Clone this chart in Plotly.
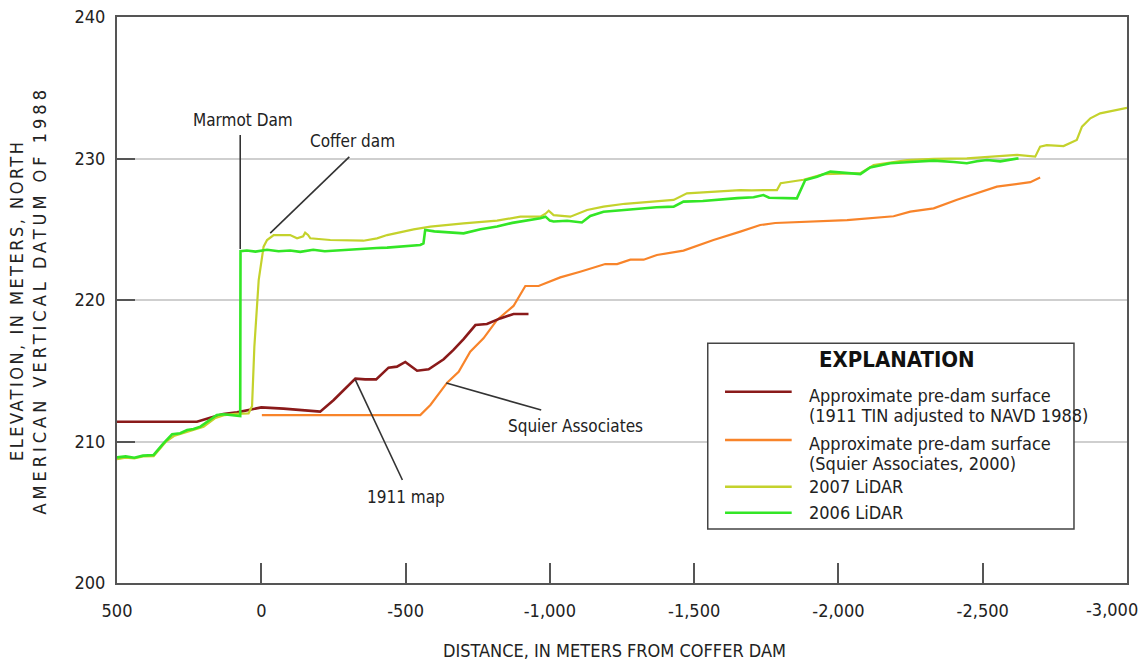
import plotly.graph_objects as go

# Longitudinal profile data: distance from coffer dam (m, negative = upstream), elevation (m, NAVD 1988)
tin1911_dist = [500, 223, 177, 132, 84, 15, 0, -77, -158, -204, -251, -285, -326, -360, -398,
                -441, -470, -499, -540, -580, -632, -666, -701, -742, -782, -828, -874, -926]
tin1911_elev = [211.40, 211.40, 211.68, 211.94, 212.06, 212.37, 212.41, 212.32, 212.18, 212.11,
                212.93, 213.64, 214.44, 214.39, 214.39, 215.22, 215.29, 215.62, 215.00, 215.10,
                215.81, 216.47, 217.24, 218.23, 218.30, 218.70, 219.01, 219.01]

squier_dist = [-2, -551, -586, -620, -644, -684, -724, -770, -817, -874, -915, -961, -1036, -1105,
               -1192, -1233, -1279, -1325, -1371, -1463, -1567, -1660, -1729, -1781, -2030, -2191,
               -2249, -2330, -2411, -2549, -2665, -2699]
squier_elev = [211.87, 211.87, 212.58, 213.52, 214.16, 214.93, 216.35, 217.29, 218.59, 219.58,
               220.99, 220.99, 221.60, 222.00, 222.54, 222.54, 222.85, 222.85, 223.18, 223.49,
               224.24, 224.83, 225.30, 225.44, 225.65, 225.92, 226.24, 226.48, 227.09, 228.01,
               228.33, 228.65]

lidar2007_dist = [500, 470, 440, 410, 373, 330, 303, 257, 200, 161, 127, 90, 44, 32, 24, 9, -8,
                  -20, -43, -100, -124, -145, -152, -162, -170, -239, -300, -354, -401, -436, -528,
                  -586, -701, -817, -898, -967, -985, -996, -1013, -1071, -1129, -1186, -1260,
                  -1359, -1429, -1475, -1530, -1640, -1660, -1700, -1787, -1800, -1879, -1949,
                  -2000, -2076, -2122, -2238, -2330, -2445, -2619, -2682, -2699, -2722, -2780,
                  -2826, -2844, -2873, -2907, -2953, -2994, -3000]
lidar2007_elev = [208.76, 208.85, 208.80, 208.95, 208.97, 210.00, 210.39, 210.69, 211.05, 211.64,
                  211.87, 211.95, 211.99, 212.50, 216.70, 221.40, 223.77, 224.24, 224.59, 224.59,
                  224.36, 224.50, 224.76, 224.60, 224.36, 224.24, 224.20, 224.19, 224.36, 224.59,
                  224.99, 225.19, 225.42, 225.61, 225.89, 225.89, 226.10, 226.31, 226.00, 225.89,
                  226.36, 226.60, 226.80, 226.95, 227.07, 227.54, 227.60, 227.70, 227.77, 227.75,
                  227.77, 228.25, 228.50, 228.90, 228.93, 228.96, 229.54, 229.89, 229.97, 230.01,
                  230.25, 230.13, 230.84, 230.95, 230.88, 231.31, 232.25, 232.84, 233.19, 233.38,
                  233.55, 233.58]

lidar2006_dist = [500, 470, 440, 410, 373, 339, 309, 281, 257, 235, 211, 177, 154, 131, 100, 84,
                  73, 72, 50, 20, -20, -60, -100, -135, -180, -220, -260, -308, -350, -400, -436,
                  -500, -551, -562, -568, -600, -650, -701, -760, -817, -870, -932, -967, -985,
                  -1000, -1013, -1060, -1111, -1140, -1186, -1250, -1302, -1370, -1429, -1463,
                  -1530, -1591, -1650, -1706, -1740, -1760, -1856, -1885, -1926, -1972, -2030,
                  -2076, -2110, -2180, -2250, -2330, -2400, -2445, -2480, -2515, -2561, -2595,
                  -2624]
lidar2006_elev = [208.88, 208.95, 208.85, 209.00, 209.05, 209.87, 210.51, 210.58, 210.81, 210.88,
                  211.05, 211.57, 211.87, 211.92, 211.85, 211.80, 211.80, 223.45, 223.50, 223.42,
                  223.55, 223.45, 223.50, 223.40, 223.55, 223.45, 223.50, 223.60, 223.62, 223.68,
                  223.70, 223.80, 223.89, 224.00, 224.95, 224.85, 224.78, 224.71, 225.00, 225.19,
                  225.45, 225.65, 225.77, 225.89, 225.61, 225.55, 225.60, 225.48, 225.94, 226.24,
                  226.35, 226.41, 226.55, 226.60, 226.95, 227.00, 227.11, 227.20, 227.26, 227.42,
                  227.23, 227.18, 228.48, 228.71, 229.07, 228.95, 228.90, 229.37, 229.66, 229.75,
                  229.85, 229.75, 229.66, 229.80, 229.89, 229.80, 229.90, 230.01]

x_tickvals = [500, 0, -500, -1000, -1500, -2000, -2500, -3000]
x_ticktext = ["500", "0", "-500", "-1,000", "-1,500", "-2,000", "-2,500", "-3,000"]
y_tickvals = [200, 210, 220, 230, 240]

C_1911 = "#8A1A1A"
C_SQUIER = "#F8842A"
C_2007 = "#C4D22C"
C_2006 = "#33E626"
AXIS = "#555555"
TEXT = "#222222"
FONT = "DejaVu Sans Condensed, Liberation Sans Narrow, Arial Narrow, sans-serif"

fig = go.Figure()
fig.add_trace(go.Scatter(x=squier_dist, y=squier_elev, mode="lines",
                         line=dict(color=C_SQUIER, width=2.2)))
fig.add_trace(go.Scatter(x=tin1911_dist, y=tin1911_elev, mode="lines",
                         line=dict(color=C_1911, width=2.6)))
fig.add_trace(go.Scatter(x=lidar2007_dist, y=lidar2007_elev, mode="lines",
                         line=dict(color=C_2007, width=2.2)))
fig.add_trace(go.Scatter(x=lidar2006_dist, y=lidar2006_elev, mode="lines",
                         line=dict(color=C_2006, width=2.6)))

# Leader lines for the callouts
leaders = [
    ((73, 231.66), (73, 223.60)),
    ((-305, 230.11), (-31, 224.73)),
    ((-326, 214.35), (-489, 207.28)),
    ((-641, 214.13), (-970, 212.23)),
]
for (x0, y0), (x1, y1) in leaders:
    fig.add_shape(type="line", xref="x", yref="y", x0=x0, y0=y0, x1=x1, y1=y1,
                  line=dict(color="#333333", width=1.6))

callouts = [
    ("Marmot Dam", 62, 232.72),
    ("Coffer dam", -315, 231.24),
    ("1911 map", -502, 206.08),
    ("Squier Associates", -1088, 211.10),
]
for text, x, y in callouts:
    fig.add_annotation(text=text, x=x, y=y, xref="x", yref="y", showarrow=False,
                       xanchor="center", yanchor="middle",
                       font=dict(family=FONT, size=17, color=TEXT))

# Explanation box
fig.add_shape(type="rect", xref="paper", yref="paper", x0=0.5849, x1=0.9475,
              y0=0.0954, y1=0.4235, line=dict(color="#444444", width=1.5),
              fillcolor="white", layer="above")
fig.add_annotation(text="<b>EXPLANATION</b>", x=0.772, y=0.394, xref="paper", yref="paper",
                   xanchor="center", yanchor="middle", showarrow=False,
                   font=dict(family=FONT, size=22, color="#111111"))

entries = [
    (C_1911, 0.338, ["Approximate pre-dam surface", "(1911 TIN adjusted to NAVD 1988)"]),
    (C_SQUIER, 0.2527, ["Approximate pre-dam surface", "(Squier Associates, 2000)"]),
    (C_2007, 0.1701, ["2007 LiDAR"]),
    (C_2006, 0.1242, ["2006 LiDAR"]),
]
line_gap = 20 / 566
for color, ly, lines in entries:
    fig.add_shape(type="line", xref="paper", yref="paper", x0=0.602, x1=0.668, y0=ly, y1=ly,
                  line=dict(color=color, width=2.4), layer="above")
    for i, t in enumerate(lines):
        ty = ly - 0.006 - i * line_gap if len(lines) > 1 else ly
        fig.add_annotation(text=t, x=0.6832, y=ty, xref="paper", yref="paper",
                           xanchor="left", yanchor="middle", showarrow=False,
                           font=dict(family=FONT, size=18, color=TEXT))

# Axis titles
fig.add_annotation(text="DISTANCE, IN METERS FROM COFFER DAM", x=0.493, y=-0.120,
                   xref="paper", yref="paper", showarrow=False,
                   xanchor="center", yanchor="middle",
                   font=dict(family=FONT, size=18, color=TEXT))
fig.add_annotation(text="<span style='letter-spacing:2.5px'>ELEVATION, IN METERS, NORTH</span><br>"
                        "<span style='letter-spacing:4px'>AMERICAN VERTICAL DATUM OF 1988</span>",
                   x=-0.0886, y=0.5, xref="paper", yref="paper", textangle=-90,
                   showarrow=False, xanchor="center", yanchor="middle",
                   font=dict(family=FONT, size=18, color=TEXT))

# The last x tick label sits at the right page edge, so it is right-aligned to stay in view
axis_ticktext = x_ticktext[:-1] + [""]
fig.add_annotation(text=x_ticktext[-1], x=x_tickvals[-1], y=0, xref="x", yref="paper",
                   xanchor="right", yanchor="middle", xshift=13, yshift=-26,
                   showarrow=False, font=dict(family=FONT, size=18, color=TEXT))

fig.update_layout(
    width=1144, height=661,
    margin=dict(l=117, r=17, t=17, b=78, autoexpand=False),
    paper_bgcolor="white", plot_bgcolor="white",
    showlegend=False,
    font=dict(family=FONT, size=18, color=TEXT),
)
fig.update_xaxes(range=[500, -3000], tickvals=x_tickvals, ticktext=axis_ticktext,
                 showgrid=False, zeroline=False, showline=True, linecolor=AXIS,
                 linewidth=2, mirror=True, ticks="inside", ticklen=20, tickwidth=1.5,
                 tickcolor=AXIS, ticklabelstandoff=10, ticklabeloverflow="allow",
                 automargin=False,
                 tickfont=dict(family=FONT, size=18, color=TEXT))
fig.update_yaxes(range=[200, 240], tickvals=y_tickvals, showgrid=True, gridcolor="#CFCFCF",
                 gridwidth=2, zeroline=False, showline=True, linecolor=AXIS, linewidth=2,
                 mirror=True, ticks="inside", ticklen=18, tickwidth=2, tickcolor=AXIS,
                 ticklabelstandoff=6, ticklabeloverflow="allow", automargin=False,
                 tickfont=dict(family=FONT, size=18, color=TEXT))

fig.write_html("out.html")
